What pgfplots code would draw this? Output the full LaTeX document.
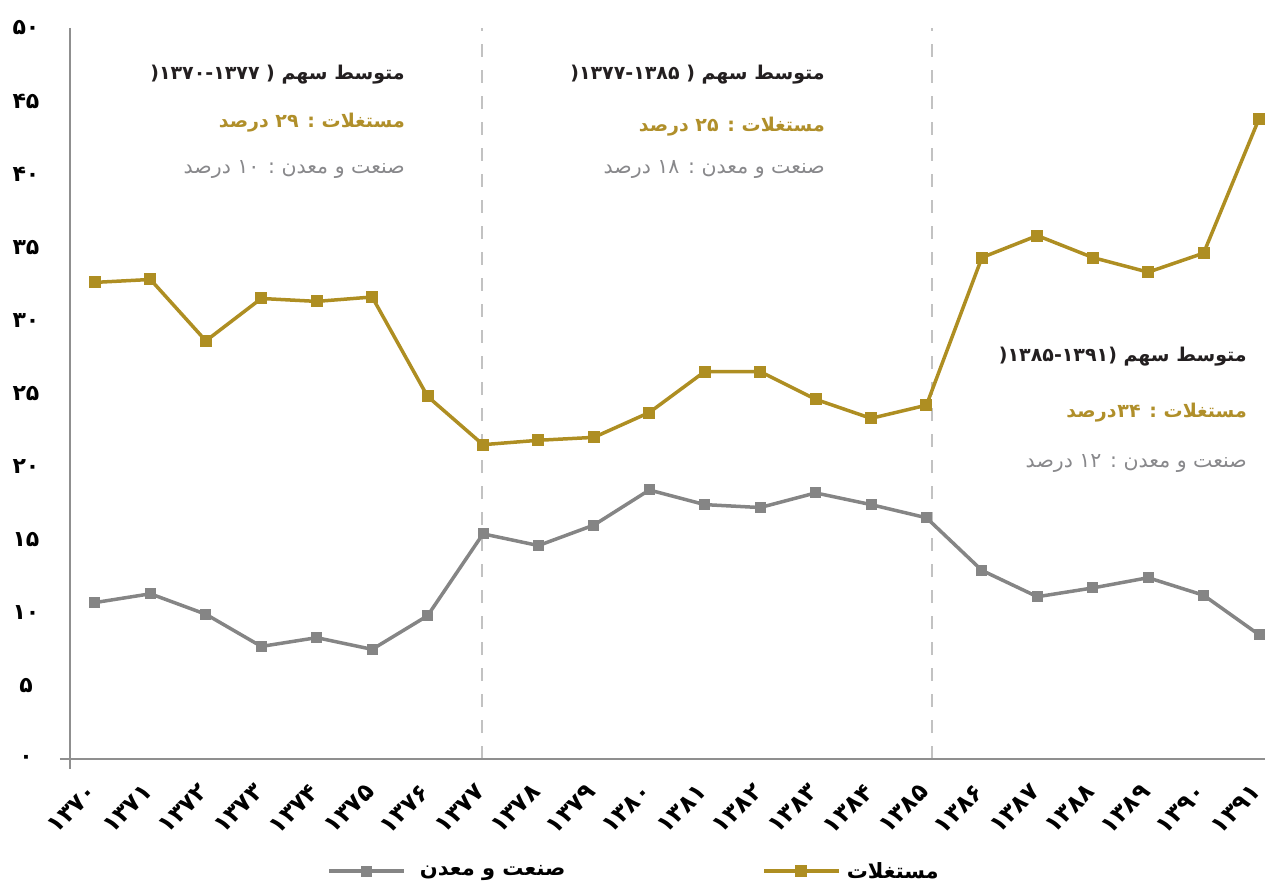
\documentclass[border=0pt]{standalone}
\usepackage{fontspec}
\usepackage{pgfplots}
\pgfplotsset{compat=1.18}
\TeXXeTstate=1
\newfontfamily\fa[Script=Arabic]{DejaVu Sans}
\definecolor{gold}{HTML}{AE8E22}
\definecolor{goldtxt}{HTML}{B08F2A}
\definecolor{grayline}{HTML}{858585}
\definecolor{graytxt}{HTML}{88888B}
\definecolor{darktxt}{HTML}{231F20}
\definecolor{axgray}{HTML}{8F8F8F}
\definecolor{dashgray}{HTML}{C2C2C2}
\pgfplotstableread{
idx yr  mos  ind
0  1370 32.6 10.7
1  1371 32.8 11.3
2  1372 28.6 9.9
3  1373 31.5 7.7
4  1374 31.3 8.3
5  1375 31.6 7.5
6  1376 24.8 9.8
7  1377 21.5 15.4
8  1378 21.8 14.6
9  1379 22.0 16.0
10 1380 23.7 18.4
11 1381 26.5 17.4
12 1382 26.5 17.2
13 1383 24.6 18.2
14 1384 23.3 17.4
15 1385 24.2 16.5
16 1386 34.3 12.9
17 1387 35.8 11.1
18 1388 34.3 11.7
19 1389 33.3 12.4
20 1390 34.6 11.2
21 1391 43.8 8.5
}\datatable
\begin{document}
\begin{tikzpicture}
\useasboundingbox (0pt,0pt) rectangle (1265pt,887pt);
\begin{axis}[
  at={(70pt,128pt)}, anchor=south west,
  scale only axis, width=1195pt, height=731pt,
  xmin=-0.451, xmax=21.107, ymin=0, ymax=50,
  axis line style={draw=none},
  clip=false,
  major tick length=0pt,
  xtick={0,...,21},
  xticklabels={۱۳۷۰,۱۳۷۱,۱۳۷۲,۱۳۷۳,۱۳۷۴,۱۳۷۵,۱۳۷۶,۱۳۷۷,۱۳۷۸,۱۳۷۹,۱۳۸۰,۱۳۸۱,۱۳۸۲,۱۳۸۳,۱۳۸۴,۱۳۸۵,۱۳۸۶,۱۳۸۷,۱۳۸۸,۱۳۸۹,۱۳۹۰,۱۳۹۱},
  ytick={0,5,...,50},
  yticklabels={۰,۵,۱۰,۱۵,۲۰,۲۵,۳۰,۳۵,۴۰,۴۵,۵۰},
  xticklabel style={font=\fa\bfseries\fontsize{24}{24}\selectfont, xshift=-2pt, yshift=-29pt, rotate=45, anchor=east, inner sep=0pt},
  yticklabel style={font=\fa\bfseries\fontsize{22}{22}\selectfont, anchor=center, xshift=-44pt, inner sep=0pt},
  legend columns=2,
  legend style={at={(0.472,-0.1535)}, anchor=center, draw=none, fill=none,
    font=\fa\bfseries\fontsize{21}{21}\selectfont,
    /tikz/every even column/.append style={column sep=195pt}},
  legend cell align=left,
  legend image code/.code={\draw[#1, mark repeat=2, mark phase=2] plot coordinates {(0pt,0pt) (37pt,0pt) (75pt,0pt)};},
]
\draw[dashgray, line width=2pt, dash pattern=on 13pt off 13pt] (axis cs:6.98,0) -- (axis cs:6.98,50);
\draw[dashgray, line width=2pt, dash pattern=on 13pt off 13pt] (axis cs:15.1,0) -- (axis cs:15.1,50);
\draw[axgray, line width=2.5pt] (axis cs:-0.451,50) -- (axis cs:-0.451,0) -- ++(0pt,-10pt);
\draw[axgray, line width=2.5pt] ([xshift=-10pt]axis cs:-0.451,0) -- (axis cs:21.107,0);
\addplot[grayline, line width=3.5pt, mark=square*, mark size=5pt, mark options={solid, fill=grayline, draw=grayline, line width=0pt}] table[x=idx, y=ind] {\datatable};
\addlegendentry{\hspace{12pt}\beginR صنعت و معدن\endR}
\addplot[gold, line width=3.5pt, mark=square*, mark size=5.5pt, mark options={solid, fill=gold, draw=gold, line width=0pt}] table[x=idx, y=mos] {\datatable};
\addlegendentry{\hspace{4pt}\beginR مستغلات\endR}
\end{axis}
% annotation blocks
\begin{scope}[every node/.style={anchor=east, inner sep=0pt}]
\node[text=darktxt, font=\fa\bfseries\fontsize{19}{19}\selectfont] at (405pt,812pt) {\beginR متوسط سهم ( \beginL۱۳۷۰-۱۳۷۷\endL(\endR};
\node[text=goldtxt, font=\fa\bfseries\fontsize{19}{19}\selectfont] at (405pt,764pt) {\beginR مستغلات : \beginL۲۹\endL{} درصد\endR};
\node[text=graytxt, font=\fa\fontsize{20.5}{20.5}\selectfont] at (405pt,717pt) {\beginR صنعت و معدن : \beginL۱۰\endL{} درصد\endR};
\node[text=darktxt, font=\fa\bfseries\fontsize{19}{19}\selectfont] at (825pt,812pt) {\beginR متوسط سهم ( \beginL۱۳۷۷-۱۳۸۵\endL(\endR};
\node[text=goldtxt, font=\fa\bfseries\fontsize{19}{19}\selectfont] at (825pt,760pt) {\beginR مستغلات : \beginL۲۵\endL{} درصد\endR};
\node[text=graytxt, font=\fa\fontsize{20.5}{20.5}\selectfont] at (825pt,717pt) {\beginR صنعت و معدن : \beginL۱۸\endL{} درصد\endR};
\node[text=darktxt, font=\fa\bfseries\fontsize{19}{19}\selectfont] at (1247pt,530pt) {\beginR متوسط سهم (\beginL۱۳۸۵-۱۳۹۱\endL(\endR};
\node[text=goldtxt, font=\fa\bfseries\fontsize{19}{19}\selectfont] at (1247pt,474pt) {\beginR مستغلات : \beginL۳۴\endL\hspace{1pt}درصد\endR};
\node[text=graytxt, font=\fa\fontsize{20.5}{20.5}\selectfont] at (1247pt,424pt) {\beginR صنعت و معدن : \beginL۱۲\endL{} درصد\endR};
\end{scope}
\end{tikzpicture}
\end{document}
